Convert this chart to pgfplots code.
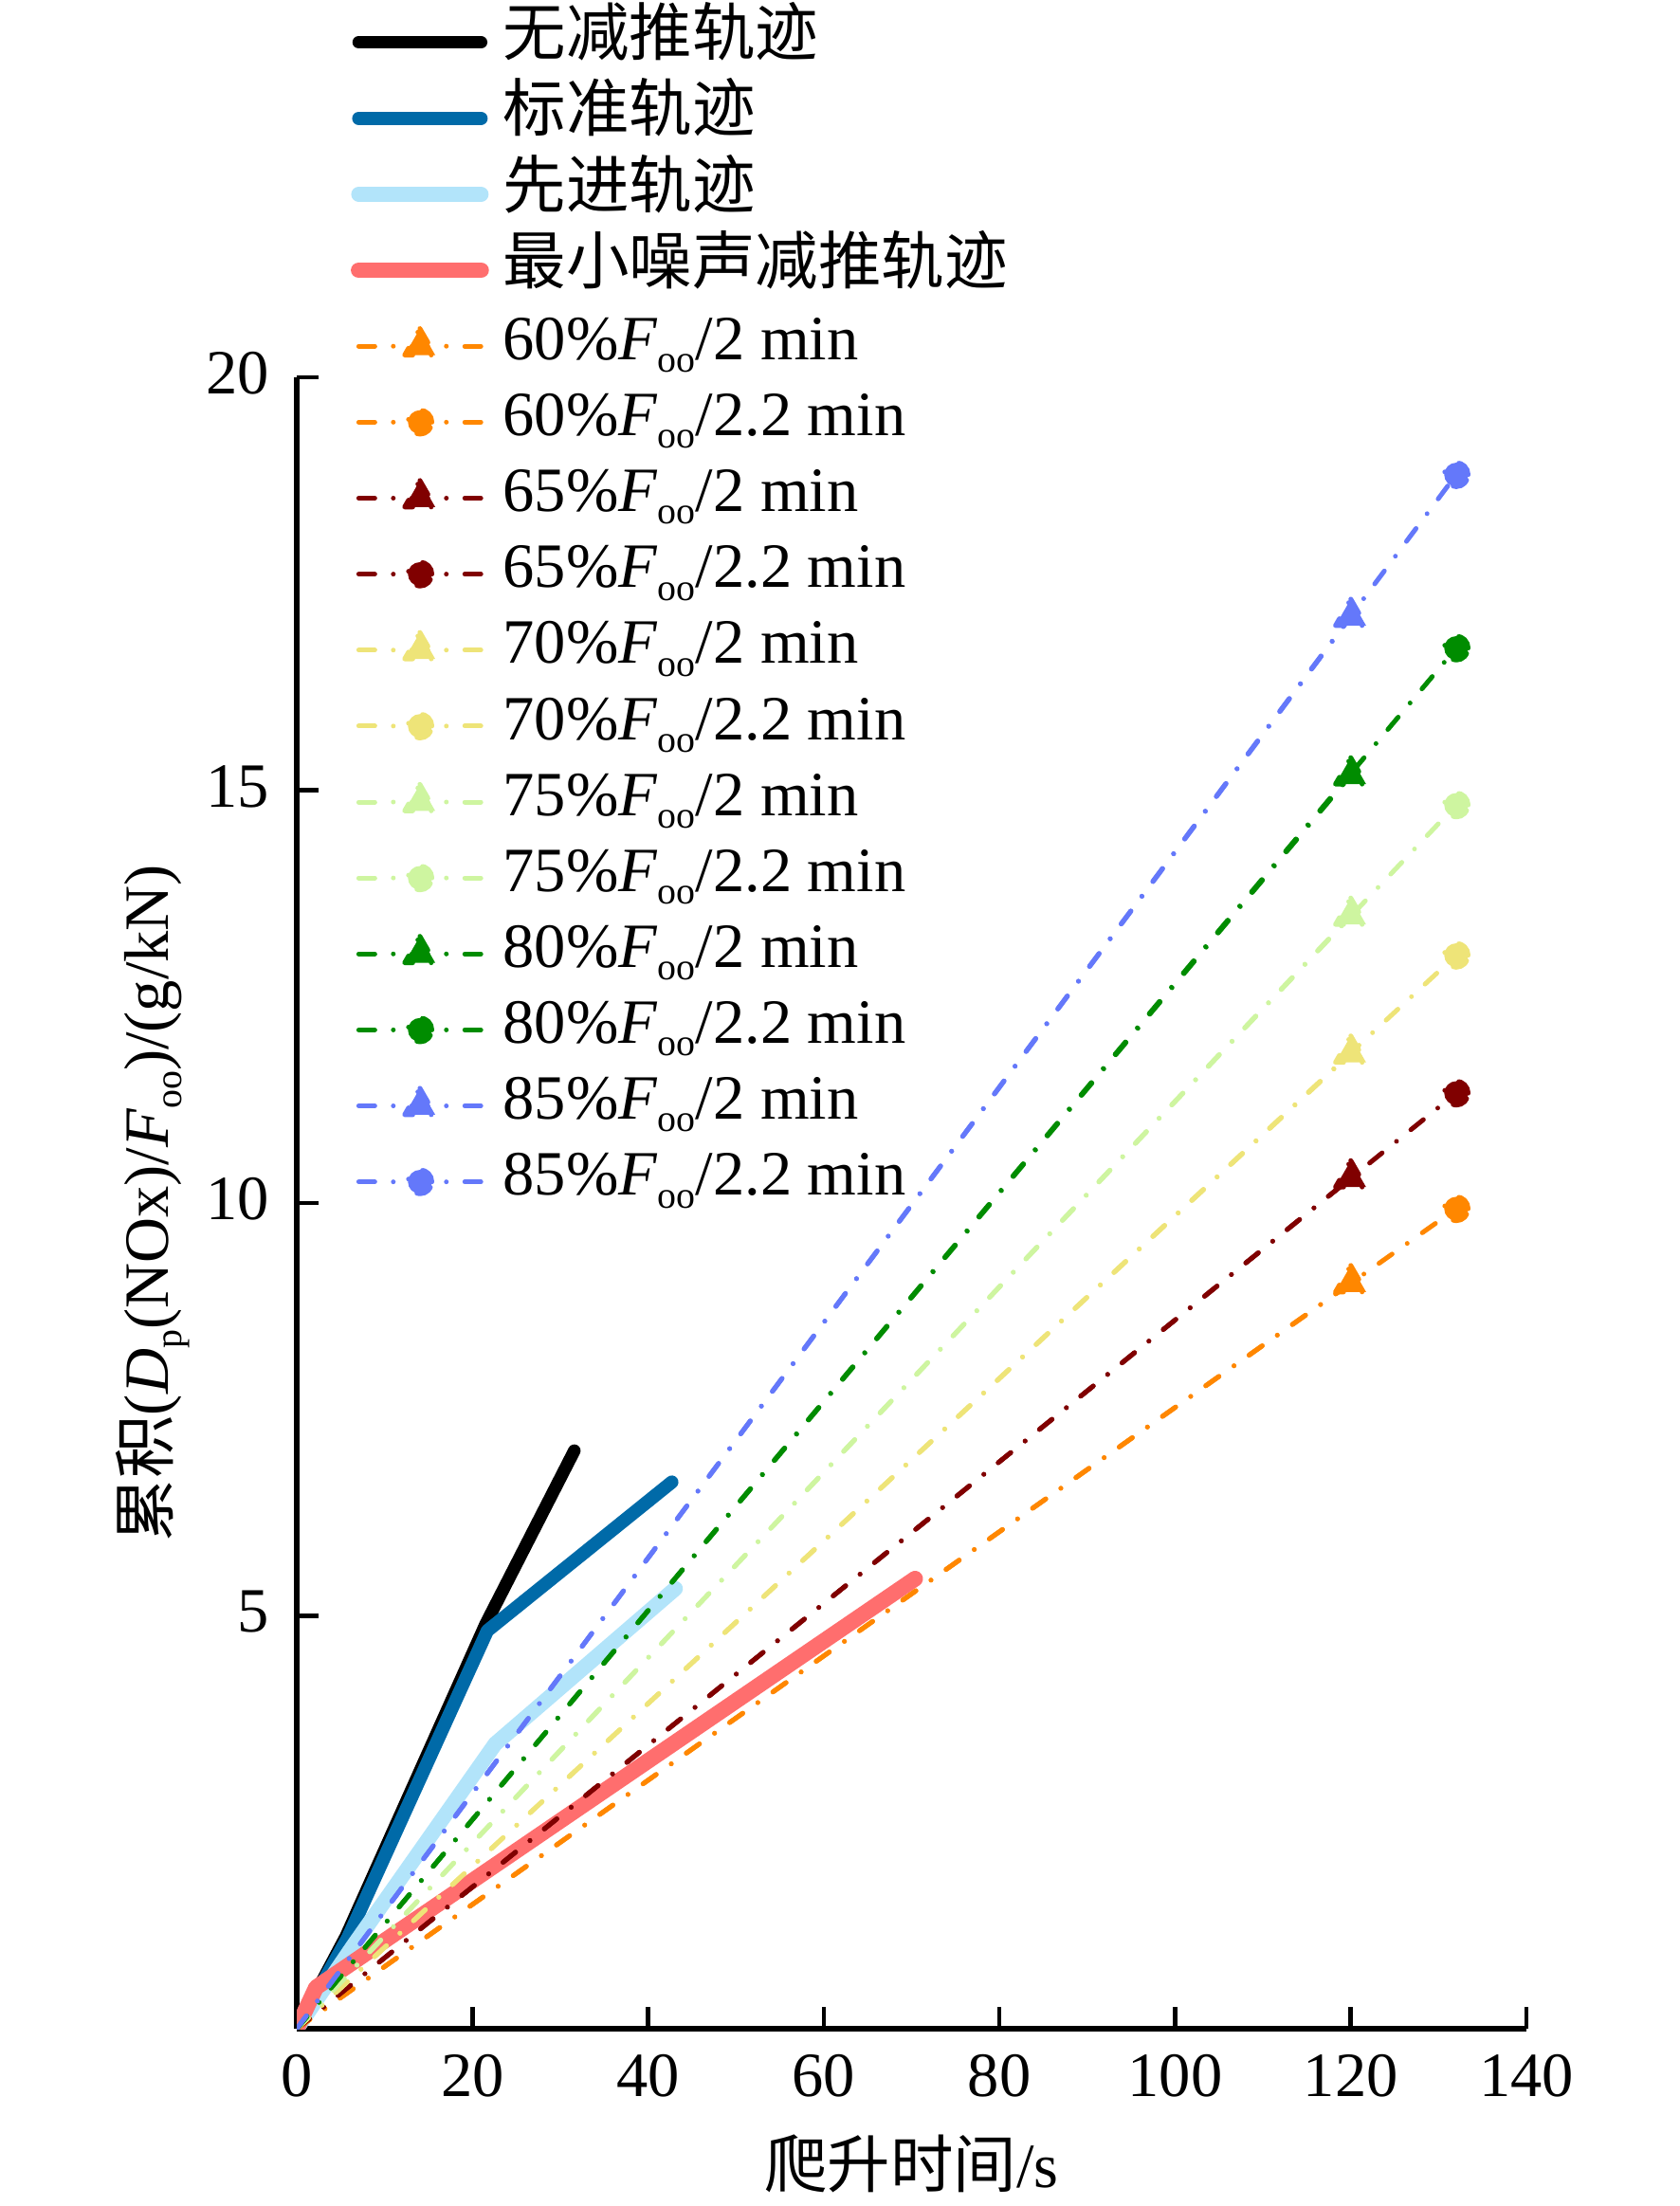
\documentclass[border=0pt]{standalone}
\usepackage{fontspec}
\setmainfont{Liberation Serif}
\newfontfamily\cjk{Noto Sans CJK SC}
\usepackage{pgfplots}
\pgfplotsset{compat=1.18}
\newcommand\sub[1]{\raisebox{-2pt}{\fontsize{6}{6}\selectfont #1}}
\newcommand\Foo{\textit{F}\sub{oo}}
\definecolor{cblack}{RGB}{0,0,0}
\definecolor{cblue}{RGB}{0,106,168}
\definecolor{clblue}{RGB}{178,228,250}
\definecolor{cred}{RGB}{255,110,110}
\definecolor{corange}{RGB}{255,135,0}
\definecolor{cdred}{RGB}{128,0,0}
\definecolor{cyellow}{RGB}{238,228,120}
\definecolor{clgreen}{RGB}{206,245,160}
\definecolor{cgreen}{RGB}{0,140,0}
\definecolor{cviolet}{RGB}{100,120,250}
\pgfplotsset{
  solidtraj/.style={line cap=round, line join=round, mark=none},
  dd/.style={line width=0.75pt, line cap=round, line join=round,
    dash pattern=on 2.55pt off 2.93pt on 0pt off 2.93pt,
    mark repeat=2, mark phase=2, mark options={solid, line width=0.3pt}},
  tri/.style={dd, mark=triangle*, mark size=2.8pt},
  cir/.style={dd, mark=*, mark size=1.9pt},
}
\begin{document}
\begin{tikzpicture}
\useasboundingbox (-47.07pt,-28.12pt) rectangle (219.40pt,321.81pt);
\begin{axis}[
  at={(0,0)}, anchor=south west,
  scale only axis, width=195.04pt, height=261.96pt,
  xmin=0, xmax=140, ymin=0, ymax=20,
  xtick={0,20,...,140}, ytick={5,10,15,20},
  axis x line*=bottom, axis y line*=left,
  x axis line style={-}, y axis line style={-},
  axis line style={line width=0.8pt},
  tick align=inside, major tick length=3.5pt,
  every tick/.style={black, line width=0.7pt},
  tick label style={font=\fontsize{10}{12}\selectfont},
  /pgf/number format/assume math mode=true,
  xticklabel style={anchor=base, yshift=-10.78pt},
  yticklabel style={anchor=east, xshift=-0.8pt, yshift=0.6pt},
  xlabel={{\cjk 爬升时间}/s},
  ylabel={{\cjk 累积}(\textit{D}\sub{p}(NOx)/\Foo)/(g/kN)},
  label style={font=\fontsize{10}{12}\selectfont},
  xlabel style={at={(axis description cs:0.5,-0.0959)}, anchor=base},
  ylabel style={at={(axis description cs:-0.1041,0.5)}, anchor=base},
  legend cell align=left,
  legend style={at={(axis description cs:0.0440,1.2258)}, anchor=north west,
    draw=none, fill=none, inner sep=0pt, outer sep=0pt, row sep=0pt, column sep=0pt,
    nodes={inner xsep=2.25pt, inner ysep=0pt, text height=8.15pt, text depth=3.9pt,
      font=\fontsize{10}{12}\selectfont}},
  legend image code/.code={\draw[mark repeat=2,mark phase=2] plot coordinates {(0pt,0pt)(9.7pt,0pt)(19.4pt,0pt)};},
]
\addplot[solidtraj, cblack, line width=2pt] coordinates {(0,0) (5.6,1.12) (21.5,4.9) (31.6,7.0)};
\addlegendentry{{\cjk 无减推轨迹}}
\addplot[solidtraj, cblue, line width=2.1pt] coordinates {(0,0) (5.8,1.1) (21.7,4.82) (42.7,6.62)};
\addlegendentry{{\cjk 标准轨迹}}
\addplot[solidtraj, clblue, line width=2.4pt] coordinates {(0,0) (6.4,1.0) (22.6,3.45) (43.1,5.33)};
\addlegendentry{{\cjk 先进轨迹}}
\addplot[solidtraj, cred, line width=2.5pt] coordinates {(0,0) (2.2,0.5) (70.4,5.45)};
\addlegendentry{{\cjk 最小噪声减推轨迹}}
\addplot[tri, corange, mark options={fill=corange}] coordinates {(0,0) (120,9.03)};
\addlegendentry{60\%\Foo/2 min}
\addplot[cir, corange, mark options={fill=corange}] coordinates {(0,0) (132,9.93)};
\addlegendentry{60\%\Foo/2.2 min}
\addplot[tri, cdred, mark options={fill=cdred}] coordinates {(0,0) (120,10.30)};
\addlegendentry{65\%\Foo/2 min}
\addplot[cir, cdred, mark options={fill=cdred}] coordinates {(0,0) (132,11.33)};
\addlegendentry{65\%\Foo/2.2 min}
\addplot[tri, cyellow, mark options={fill=cyellow}] coordinates {(0,0) (120,11.81)};
\addlegendentry{70\%\Foo/2 min}
\addplot[cir, cyellow, mark options={fill=cyellow}] coordinates {(0,0) (132,13.0)};
\addlegendentry{70\%\Foo/2.2 min}
\addplot[tri, clgreen, mark options={fill=clgreen}] coordinates {(0,0) (120,13.48)};
\addlegendentry{75\%\Foo/2 min}
\addplot[cir, clgreen, mark options={fill=clgreen}] coordinates {(0,0) (132,14.82)};
\addlegendentry{75\%\Foo/2.2 min}
\addplot[tri, cgreen, mark options={fill=cgreen}] coordinates {(0,0) (120,15.18)};
\addlegendentry{80\%\Foo/2 min}
\addplot[cir, cgreen, mark options={fill=cgreen}] coordinates {(0,0) (132,16.72)};
\addlegendentry{80\%\Foo/2.2 min}
\addplot[tri, cviolet, mark options={fill=cviolet}] coordinates {(0,0) (120,17.10)};
\addlegendentry{85\%\Foo/2 min}
\addplot[cir, cviolet, mark options={fill=cviolet}] coordinates {(0,0) (132,18.82)};
\addlegendentry{85\%\Foo/2.2 min}
\end{axis}
\end{tikzpicture}
\end{document}
